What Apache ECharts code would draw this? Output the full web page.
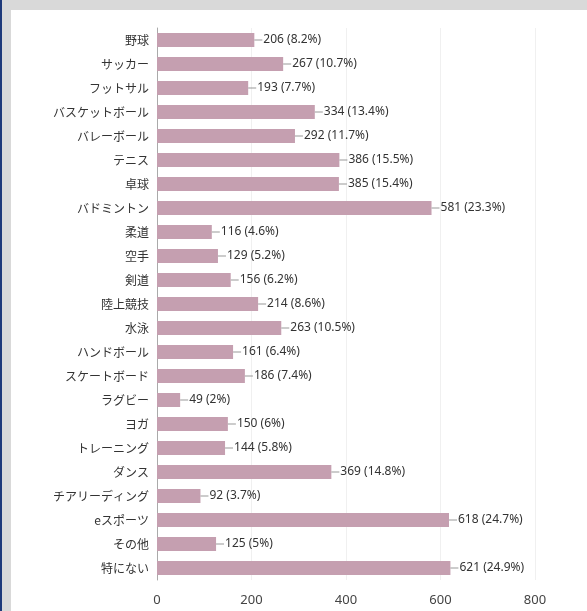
<!DOCTYPE html>
<html><head><meta charset="utf-8">
<script src="https://cdn.jsdelivr.net/npm/echarts@6/dist/echarts.min.js"></script>
<style>html,body{margin:0;padding:0;background:#fff}#c{width:587px;height:611px}</style>
</head><body><div id="c"></div>
<script>
const categories = ['野球','サッカー','フットサル','バスケットボール','バレーボール','テニス','卓球','バドミントン','柔道','空手','剣道','陸上競技','水泳','ハンドボール','スケートボード','ラグビー','ヨガ','トレーニング','ダンス','チアリーディング','eスポーツ','その他','特にない'];
const values = [206,267,193,334,292,386,385,581,116,129,156,214,263,161,186,49,150,144,369,92,618,125,621];
const percents = ['8.2','10.7','7.7','13.4','11.7','15.5','15.4','23.3','4.6','5.2','6.2','8.6','10.5','6.4','7.4','2','6','5.8','14.8','3.7','24.7','5','24.9'];
const xTicks = [0,200,400,600,800];

const jpFont = '"Noto Sans CJK JP",sans-serif';
const numFont = '"Noto Sans","Noto Sans CJK JP",sans-serif';
const chart = echarts.init(document.getElementById('c'));
chart.setOption({
  animation:false,
  graphic:[
    {type:'rect',shape:{x:0,y:0,width:587,height:10},style:{fill:'#d9d9d9'},silent:true},
    {type:'rect',shape:{x:0,y:0,width:11,height:611},style:{fill:'#d9d9d9'},silent:true},
    {type:'rect',shape:{x:0,y:0,width:2,height:611},style:{fill:'#1f3a7a'},silent:true}
  ],
  grid:{left:157,top:28,right:52,bottom:31,containLabel:false},
  xAxis:{type:'value',min:xTicks[0],max:xTicks[xTicks.length-1],interval:200,
    axisLine:{show:false},axisTick:{show:false},
    splitLine:{show:true,lineStyle:{color:'#f0f0f0',width:1}},
    axisLabel:{color:'#444',fontSize:13,fontFamily:numFont,margin:14}},
  yAxis:{type:'category',inverse:true,data:categories,
    axisLine:{show:true,lineStyle:{color:'#aaa'}},axisTick:{show:false},
    axisLabel:{color:'#333',fontSize:12,fontFamily:jpFont,margin:8}},
  series:[{type:'bar',data:values,barWidth:14,
    itemStyle:{color:'#c59fb0'},
    label:{show:true,position:'right',distance:0,
      formatter:p=>'{l|}{t|'+p.value+' ('+percents[p.dataIndex]+'%)}',
      rich:{l:{width:8,height:1,backgroundColor:'#999'},t:{color:'#333',fontSize:12,fontFamily:numFont,padding:[0,0,0,1]}}}
  }]
});
</script></body></html>
